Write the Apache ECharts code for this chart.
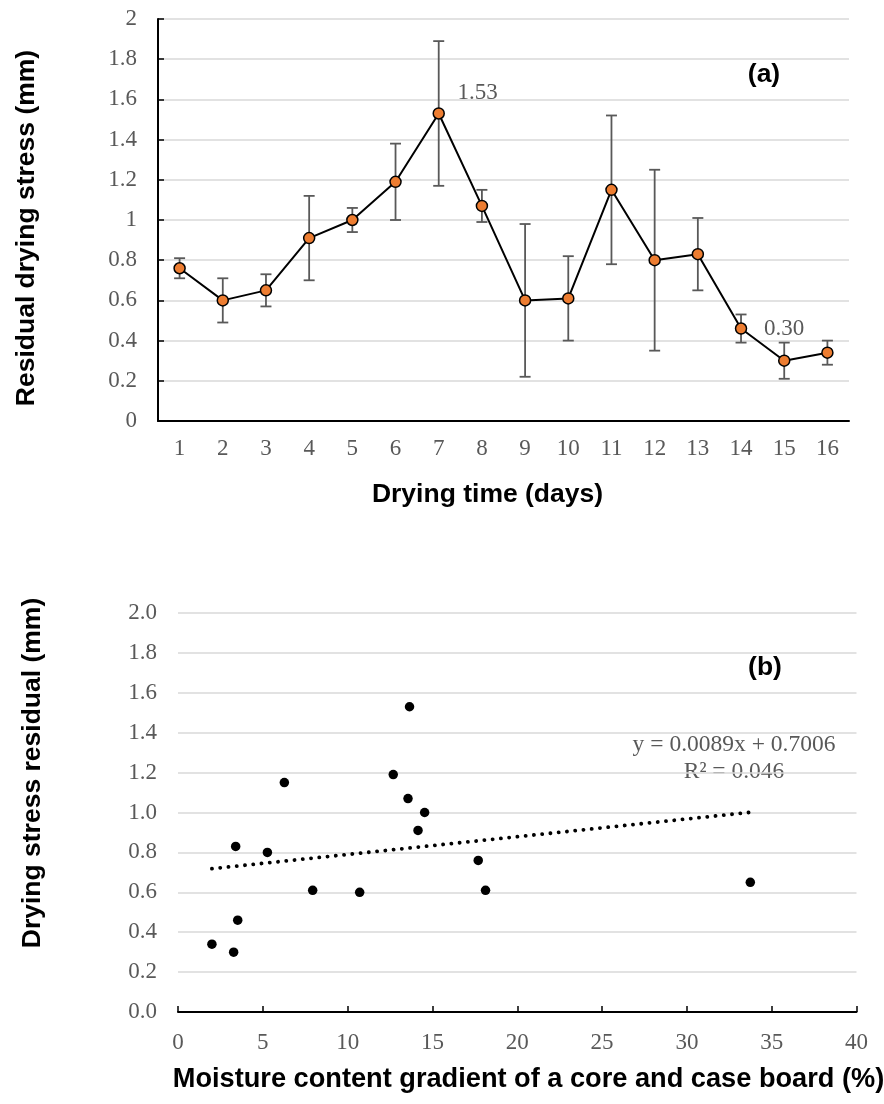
<!DOCTYPE html>
<html>
<head>
<meta charset="utf-8">
<script src="https://cdn.jsdelivr.net/npm/echarts@6/dist/echarts.min.js"></script>
<style>
html, body { margin: 0; padding: 0; background: #fff; }
#main { width: 884px; height: 1104px; }
</style>
</head>
<body>
<div id="main"></div>
<script>
// (a) residual drying stress per day
var days = ['1', '2', '3', '4', '5', '6', '7', '8', '9', '10', '11', '12', '13', '14', '15', '16'];
var stress = [0.76, 0.60, 0.65, 0.91, 1.00, 1.19, 1.53, 1.07, 0.60, 0.61, 1.15, 0.80, 0.83, 0.46, 0.30, 0.34];
var stressErr = [0.05, 0.11, 0.08, 0.21, 0.06, 0.19, 0.36, 0.08, 0.38, 0.21, 0.37, 0.45, 0.18, 0.07, 0.09, 0.06];
var labelled = [6, 14];

// (b) moisture gradient vs residual
var gradient = [3.40, 5.27, 6.27, 7.94, 10.71, 12.69, 13.65, 13.56, 14.54, 14.15, 17.70, 18.13, 33.74, 3.52, 2.00, 3.28];
var residual = [0.83, 0.80, 1.15, 0.61, 0.60, 1.19, 1.53, 1.07, 1.00, 0.91, 0.76, 0.61, 0.65, 0.46, 0.34, 0.30];
var trendSlope = 0.0089;
var trendIntercept = 0.7006;
var trendRange = [2.00, 33.74];

var gray = '#595959';
var serif = 'Liberation Serif';
var sans = 'Liberation Sans';

var chart = echarts.init(document.getElementById('main'));

var lineData = stress.map(function (v, i) {
    var item = { value: v };
    if (labelled.indexOf(i) >= 0) {
        item.label = {
            show: true,
            position: 'top',
            formatter: function (p) { return p.value.toFixed(2); },
            offset: i === 6 ? [39, 2] : [0, -9]
        };
    }
    return item;
});

var errData = stress.map(function (v, i) { return [i, v, stressErr[i]]; });
var scatterData = gradient.map(function (x, i) { return [x, residual[i]]; });
var trendData = trendRange.map(function (x) { return [x, trendIntercept + trendSlope * x]; });

function titleText(text, x, y, rot, size) {
    return {
        type: 'text', x: x, y: y, rotation: rot || 0,
        style: {
            text: text, align: 'center', verticalAlign: 'middle',
            font: 'bold ' + (size || 26.5) + 'px "' + sans + '"', fill: '#000'
        }
    };
}
function noteText(text, x, y) {
    return {
        type: 'text', x: x, y: y,
        style: {
            text: text, align: 'center', verticalAlign: 'middle',
            font: '23.5px "' + serif + '"', fill: gray
        }
    };
}

var option = {
    animation: false,
    backgroundColor: '#fff',
    grid: [
        { left: 158, top: 19, width: 691, height: 402 },
        { left: 178, top: 613, width: 678.5, height: 399 }
    ],
    xAxis: [{
        gridIndex: 0,
        type: 'category',
        data: days,
        boundaryGap: true,
        axisLine: { lineStyle: { color: '#000', width: 2 } },
        axisTick: { inside: true, alignWithLabel: true, length: 5, lineStyle: { color: '#000', width: 1.5 } },
        axisLabel: { color: gray, fontFamily: serif, fontSize: 23, margin: 16 },
        splitLine: { show: false }
    }, {
        gridIndex: 1,
        type: 'value',
        min: 0, max: 40, interval: 5,
        axisLine: { show: true, onZero: false, lineStyle: { color: '#000', width: 2 } },
        axisTick: { show: true, inside: true, length: 6, lineStyle: { color: '#000', width: 1.5 } },
        axisLabel: { color: gray, fontFamily: serif, fontSize: 23, margin: 19 },
        splitLine: { show: false }
    }],
    yAxis: [{
        gridIndex: 0,
        type: 'value',
        min: 0, max: 2, interval: 0.2,
        axisLine: { show: true, lineStyle: { color: '#000', width: 2 } },
        axisTick: { show: true, inside: true, length: 6, lineStyle: { color: '#000', width: 1.5 } },
        axisLabel: { color: gray, fontFamily: serif, fontSize: 23, margin: 21 },
        splitLine: { lineStyle: { color: '#d9d9d9', width: 1.5 } }
    }, {
        gridIndex: 1,
        type: 'value',
        min: 0, max: 2, interval: 0.2,
        axisLine: { show: false },
        axisTick: { show: false },
        axisLabel: {
            color: gray, fontFamily: serif, fontSize: 23, margin: 21,
            formatter: function (v) { return v.toFixed(1); }
        },
        splitLine: { lineStyle: { color: '#d9d9d9', width: 1.5 } }
    }],
    series: [{
        type: 'custom',
        xAxisIndex: 0, yAxisIndex: 0,
        z: 2,
        data: errData,
        renderItem: function (params, api) {
            var i = api.value(0), v = api.value(1), e = api.value(2);
            var hi = api.coord([i, v + e]);
            var lo = api.coord([i, v - e]);
            var w = 5.5;
            var st = { stroke: gray, lineWidth: 1.8 };
            return {
                type: 'group',
                children: [
                    { type: 'line', shape: { x1: hi[0], y1: hi[1], x2: lo[0], y2: lo[1] }, style: st },
                    { type: 'line', shape: { x1: hi[0] - w, y1: hi[1], x2: hi[0] + w, y2: hi[1] }, style: st },
                    { type: 'line', shape: { x1: lo[0] - w, y1: lo[1], x2: lo[0] + w, y2: lo[1] }, style: st }
                ]
            };
        }
    }, {
        type: 'line',
        xAxisIndex: 0, yAxisIndex: 0,
        z: 3,
        data: lineData,
        symbol: 'circle',
        symbolSize: 11,
        lineStyle: { color: '#000', width: 2 },
        itemStyle: { color: '#ED7D31', borderColor: '#000', borderWidth: 1.5 },
        label: { color: gray, fontFamily: serif, fontSize: 23 }
    }, {
        type: 'line',
        xAxisIndex: 1, yAxisIndex: 1,
        data: trendData,
        symbol: 'none',
        lineStyle: { color: '#000', width: 3.8, type: [0.1, 8.2], cap: 'round' }
    }, {
        type: 'scatter',
        xAxisIndex: 1, yAxisIndex: 1,
        data: scatterData,
        symbol: 'circle',
        symbolSize: 9.5,
        itemStyle: { color: '#000', opacity: 1 }
    }],
    graphic: [
        titleText('Residual drying stress (mm)', 27, 228, Math.PI / 2),
        titleText('Drying time (days)', 487.5, 495),
        titleText('(a)', 764, 75),
        titleText('Drying stress residual (mm)', 33, 773, Math.PI / 2),
        titleText('Moisture content gradient of a core and case board (%)', 528.5, 1080, 0, 27.2),
        titleText('(b)', 765, 668),
        noteText('y = 0.0089x + 0.7006', 734, 745),
        noteText('R² = 0.046', 734, 772)
    ]
};

chart.setOption(option);
</script>
</body>
</html>
